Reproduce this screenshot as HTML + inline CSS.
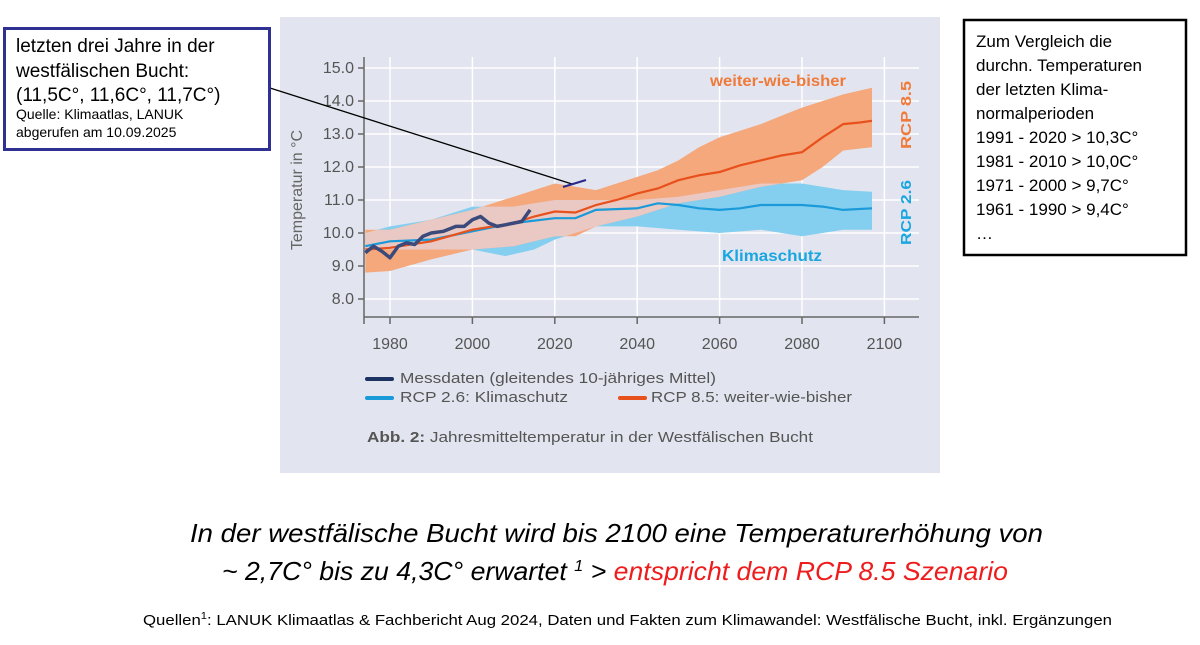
<!DOCTYPE html>
<html><head><meta charset="utf-8"><style>
html,body{margin:0;padding:0;background:#fff;width:1200px;height:645px;overflow:hidden}
svg text{font-family:"Liberation Sans",sans-serif}
</style></head><body>
<svg id="s" width="1200" height="645" viewBox="0 0 1200 645" xmlns="http://www.w3.org/2000/svg">
<rect x="280" y="17" width="660" height="456" fill="#e2e5ef"/>
<g id="grid" stroke="#fff" stroke-width="1.5"></g>
<defs><clipPath id="oc"><path id="ocp"/></clipPath></defs>
<path id="bb" fill="#84cff0"/>
<path id="ob" fill="#f5a87c"/>
<path id="ib" fill="#eac8c4" clip-path="url(#oc)"/>
<path id="bl" fill="none" stroke="#1a9ad8" stroke-width="2.2"/>
<path id="rl" fill="none" stroke="#e8501c" stroke-width="2.2"/>
<path id="ml" fill="none" stroke="#3b4a7a" stroke-width="3.5" stroke-linejoin="round"/>
<g id="axes" stroke="#666" stroke-width="1.5" fill="none"></g>
<g id="lbl" font-size="16" fill="#555"></g>
<text x="0" y="0" transform="translate(302,190) rotate(-90)" text-anchor="middle" font-size="16" fill="#666">Temperatur  in °C</text>
<text x="710" y="86" font-size="16" font-weight="bold" fill="#f07a3a" textLength="136" lengthAdjust="spacingAndGlyphs">weiter-wie-bisher</text>
<text x="722" y="261" font-size="16" font-weight="bold" fill="#1aa6e0" textLength="100" lengthAdjust="spacingAndGlyphs">Klimaschutz</text>
<text transform="translate(911,149) rotate(-90)" font-size="15" font-weight="bold" fill="#f07a3a" textLength="68" lengthAdjust="spacingAndGlyphs">RCP 8.5</text>
<text transform="translate(911,245) rotate(-90)" font-size="15" font-weight="bold" fill="#1aa6e0" textLength="65" lengthAdjust="spacingAndGlyphs">RCP 2.6</text>
<line x1="367" y1="379" x2="392" y2="379" stroke="#1c3263" stroke-width="4" stroke-linecap="round"/>
<line x1="367" y1="398" x2="392" y2="398" stroke="#1a9ad8" stroke-width="4" stroke-linecap="round"/>
<line x1="620" y1="398" x2="645" y2="398" stroke="#e8501c" stroke-width="4" stroke-linecap="round"/>
<g font-size="15" fill="#555">
<text x="400" y="383" textLength="316" lengthAdjust="spacingAndGlyphs">Messdaten (gleitendes 10-jähriges Mittel)</text>
<text x="400" y="402" textLength="168" lengthAdjust="spacingAndGlyphs">RCP 2.6:  Klimaschutz</text>
<text x="651" y="402" textLength="201" lengthAdjust="spacingAndGlyphs">RCP 8.5: weiter-wie-bisher</text>
<text x="367" y="442" textLength="446" lengthAdjust="spacingAndGlyphs"><tspan font-weight="bold">Abb. 2:</tspan> Jahresmitteltemperatur in der Westfälischen Bucht</text>
</g>
<line x1="270" y1="88" x2="572" y2="184" stroke="#000" stroke-width="1.3"/>
<line x1="563" y1="187" x2="586" y2="180" stroke="#2a2a8a" stroke-width="2.2"/>
<rect x="4.5" y="28.5" width="265" height="121" fill="#fff" stroke="#2e3192" stroke-width="3"/>
<g font-size="19" fill="#000">
<text x="16" y="52">letzten drei Jahre in der</text>
<text x="16" y="77">westfälischen Bucht:</text>
<text x="16" y="101">(11,5C°, 11,6C°, 11,7C°)</text>
</g>
<g font-size="14" fill="#000">
<text x="16" y="119">Quelle: Klimaatlas, LANUK</text>
<text x="16" y="137">abgerufen am 10.09.2025</text>
</g>
<rect x="964" y="20" width="222" height="235" fill="#fff" stroke="#000" stroke-width="2.5"/>
<g font-size="17" fill="#000">
<text x="976" y="47">Zum Vergleich die</text>
<text x="976" y="71">durchn. Temperaturen</text>
<text x="976" y="95">der letzten Klima-</text>
<text x="976" y="119">normalperioden</text>
<text x="976" y="143">1991 - 2020 &gt; 10,3C°</text>
<text x="976" y="167">1981 - 2010 &gt; 10,0C°</text>
<text x="976" y="191">1971 - 2000 &gt; 9,7C°</text>
<text x="976" y="215">1961 - 1990 &gt; 9,4C°</text>
<text x="976" y="239">…</text>
</g>
<text x="190" y="542" font-size="26" font-style="italic" fill="#000" textLength="853" lengthAdjust="spacingAndGlyphs">In der westfälische Bucht wird bis 2100 eine Temperaturerhöhung von</text>
<text x="222" y="580" font-size="26" font-style="italic" fill="#000" textLength="786" lengthAdjust="spacingAndGlyphs">~ 2,7C° bis zu 4,3C° erwartet <tspan font-size="16" dy="-9">1</tspan><tspan dy="9"> &gt; </tspan><tspan fill="#ee1c1c">entspricht dem RCP 8.5 Szenario</tspan></text>
<text x="143" y="625" font-size="15" fill="#000" textLength="969" lengthAdjust="spacingAndGlyphs">Quellen<tspan font-size="10" dy="-6">1</tspan><tspan dy="6">: LANUK Klimaatlas &amp; Fachbericht Aug 2024, Daten und Fakten zum Klimawandel: Westfälische Bucht, inkl. Ergänzungen</tspan></text>
</svg>
<script>
var X=function(y){return 390+(y-1980)*4.12},Y=function(t){return 68+(15-t)*33};
function P(a){return a.map(function(p,i){return (i?'L':'M')+X(p[0]).toFixed(1)+','+Y(p[1]).toFixed(1)}).join(' ')}
function band(u,l){return P(u)+' '+P(l.slice().reverse()).replace('M','L')+' Z'}
var g=document.getElementById('grid'),h='';
for(var t=8;t<=15;t++)h+='<line x1="364" x2="919" y1="'+Y(t)+'" y2="'+Y(t)+'"/>';
for(var y=1980;y<=2100;y+=20)h+='<line x1="'+X(y)+'" x2="'+X(y)+'" y1="57" y2="317"/>';
g.innerHTML=h;
var ax='<line x1="364" y1="57" x2="364" y2="317"/><line x1="364" y1="317" x2="919" y2="317"/>';
for(var t=8;t<=15;t++)ax+='<line x1="358" x2="364" y1="'+Y(t)+'" y2="'+Y(t)+'"/>';
for(var y=1980;y<=2100;y+=20)ax+='<line x1="'+X(y)+'" x2="'+X(y)+'" y1="317" y2="324"/>';
ax+='<line x1="364" x2="364" y1="317" y2="324"/>';
document.getElementById('axes').innerHTML=ax;
var lb='';for(var t=8;t<=15;t++)lb+='<text x="354" y="'+(Y(t)+5)+'" text-anchor="end">'+t+'.0</text>';
for(var y=1980;y<=2100;y+=20)lb+='<text x="'+X(y)+'" y="349" text-anchor="middle">'+y+'</text>';
document.getElementById('lbl').innerHTML=lb;
var ou=[[1974,10.1],[1980,10.1],[1990,10.4],[2000,10.7],[2005,10.9],[2010,11.1],[2015,11.3],[2020,11.5],[2025,11.4],[2030,11.3],[2035,11.5],[2040,11.7],[2045,11.9],[2050,12.2],[2055,12.6],[2060,12.9],[2065,13.1],[2070,13.3],[2075,13.55],[2080,13.8],[2085,14.0],[2090,14.2],[2097,14.4]];
var ol=[[1974,8.8],[1980,8.85],[1990,9.2],[2000,9.5],[2010,9.6],[2020,9.9],[2025,9.9],[2030,10.2],[2040,10.5],[2050,10.9],[2060,11.1],[2070,11.4],[2080,11.6],[2085,12.0],[2090,12.5],[2097,12.6]];
var bu=[[1974,10.0],[1980,10.2],[1990,10.4],[2000,10.8],[2010,10.8],[2020,11.0],[2030,11.0],[2040,11.0],[2050,11.1],[2060,11.3],[2070,11.5],[2080,11.5],[2090,11.3],[2097,11.25]];
var bl=[[1974,9.5],[1980,9.5],[1990,9.5],[2000,9.5],[2008,9.3],[2015,9.5],[2020,9.8],[2030,10.2],[2040,10.2],[2050,10.1],[2060,10.0],[2070,10.1],[2080,9.9],[2090,10.1],[2097,10.1]];
document.getElementById('ob').setAttribute('d',band(ou,ol));
document.getElementById('ocp').setAttribute('d',band(ou,ol));
document.getElementById('bb').setAttribute('d',band(bu,bl));
document.getElementById('ib').setAttribute('d',band(bu,bl));
document.getElementById('rl').setAttribute('d',P([[1974,9.5],[1980,9.55],[1990,9.75],[2000,10.1],[2010,10.3],[2015,10.5],[2020,10.65],[2025,10.62],[2030,10.85],[2035,11.0],[2040,11.2],[2045,11.35],[2050,11.6],[2055,11.75],[2060,11.85],[2065,12.05],[2070,12.2],[2075,12.35],[2080,12.45],[2085,12.9],[2090,13.3],[2094,13.35],[2097,13.4]]));
document.getElementById('bl').setAttribute('d',P([[1974,9.6],[1980,9.75],[1990,9.8],[2000,10.05],[2010,10.3],[2020,10.45],[2025,10.45],[2030,10.7],[2040,10.75],[2045,10.9],[2050,10.85],[2055,10.75],[2060,10.7],[2065,10.75],[2070,10.85],[2080,10.85],[2085,10.8],[2090,10.7],[2097,10.75]]));
document.getElementById('ml').setAttribute('d',P([[1974,9.4],[1976,9.6],[1978,9.45],[1980,9.25],[1982,9.6],[1984,9.7],[1986,9.65],[1988,9.9],[1990,10.0],[1993,10.05],[1996,10.2],[1998,10.2],[2000,10.4],[2002,10.5],[2004,10.3],[2006,10.2],[2008,10.25],[2010,10.3],[2012,10.35],[2014,10.7]]));
</script>
</body></html>
